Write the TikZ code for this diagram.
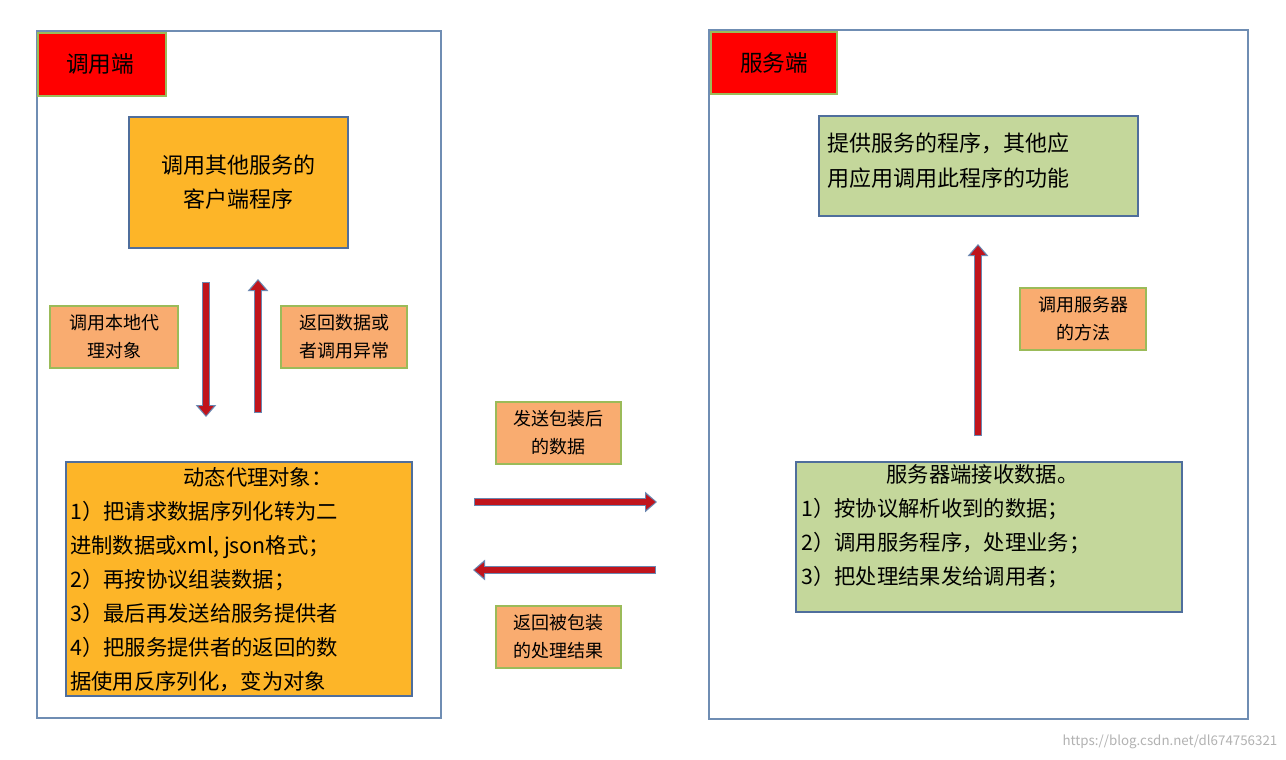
\documentclass[tikz,border=0pt]{standalone}
\usepackage{fontspec}
\setmainfont{Noto Sans CJK SC}
\usetikzlibrary{arrows.meta}
\definecolor{panel}{HTML}{6F8DB3}
\definecolor{bblue}{HTML}{4F6E9C}
\definecolor{orng}{HTML}{FDB528}
\definecolor{salm}{HTML}{F9AC70}
\definecolor{gbord}{HTML}{9BBB59}
\definecolor{grn}{HTML}{C4D79B}
\definecolor{ared}{HTML}{C0141C}
\definecolor{aout}{HTML}{6A86B0}
\tikzset{
  panelbox/.style={draw=panel,line width=1.8pt},
  tagbox/.style={fill=red,draw=gbord,line width=0.8pt},
  mainbox/.style={draw=bblue,line width=0.8pt},
  lbl/.style={fill=salm,draw=gbord,line width=0.9pt},
  blk/.style={line width=6pt,draw=aout,-{Triangle[length=9pt,width=15pt]},
     postaction={draw=ared,line width=4pt,-{Triangle[length=7pt,width=11pt]},shorten >=1.2pt,shorten <=0.8pt}},
}
\begin{document}
\begin{tikzpicture}[x=0.75pt,y=-0.75pt]
\useasboundingbox[fill=white] (0,0) rectangle (1286,760);
\draw[panelbox] (37,31) rectangle (441,718);
\draw[panelbox] (709,30) rectangle (1248,719);
\draw[tagbox] (38,33) rectangle (166,96);
\node at (100,64) {\fontsize{17}{20}\selectfont 调用端};
\draw[tagbox] (711,32) rectangle (837,94);
\node at (774,63) {\fontsize{17}{20}\selectfont 服务端};
\draw[mainbox,fill=orng] (129,117) rectangle (348,248);
\node[align=center,font=\fontsize{16.5}{25}\selectfont] (client) at (238,182) {调用其他服务的\\客户端程序};
\draw[lbl] (50,306) rectangle (178,368);
\node[align=center,font=\fontsize{13.5}{21}\selectfont] at (114,337) {调用本地代\\理对象};
\draw[lbl] (281,306) rectangle (407,368);
\node[align=center,font=\fontsize{13.5}{21}\selectfont] at (344,337) {返回数据或\\者调用异常};
\coordinate (d1) at (206,282); \coordinate (d2) at (206,417);
\coordinate (u1) at (258,413); \coordinate (u2) at (258,279);
\draw[blk] (d1) -- (d2);
\draw[blk] (u1) -- (u2);
\draw[mainbox,fill=orng] (66,462) rectangle (412,696);
\node[align=left,anchor=north west,font=\fontsize{16}{25.5}\selectfont,inner sep=0] (proxy) at (70,467) {\hspace*{5.3em}动态代理对象：\\1）把请求数据序列化转为二\\进制数据或xml, json格式；\\2）再按协议组装数据；\\3）最后再发送给服务提供者\\4）把服务提供者的返回的数\\据使用反序列化，变为对象};
\draw[lbl] (496,402) rectangle (621,464);
\node[align=center,font=\fontsize{13.5}{21}\selectfont] at (558,433) {发送包装后\\的数据};
\draw[lbl] (496,606) rectangle (621,668);
\node[align=center,font=\fontsize{13.5}{21}\selectfont] at (558,637) {返回被包装\\的处理结果};
\coordinate (r1) at (474,502); \coordinate (r2) at (657,502);
\coordinate (l1) at (656,570); \coordinate (l2) at (473,570);
\draw[blk] (r1) -- (r2);
\draw[blk] (l1) -- (l2);
\draw[mainbox,fill=grn] (819,116) rectangle (1138,216);
\node[align=left,anchor=north west,font=\fontsize{16.5}{26}\selectfont,inner sep=0] (prov) at (827,133) {提供服务的程序，其他应\\用应用调用此程序的功能};
\coordinate (s1) at (978,436); \coordinate (s2) at (978,244);
\draw[blk] (s1) -- (s2);
\draw[lbl] (1020,288) rectangle (1146,350);
\node[align=center,font=\fontsize{13.5}{21}\selectfont] at (1083,319) {调用服务器\\的方法};
\draw[mainbox,fill=grn] (796,462) rectangle (1182,612);
\node[align=left,anchor=north west,font=\fontsize{16}{25.5}\selectfont,inner sep=0] (srv) at (801,464) {\hspace*{4em}服务器端接收数据。\\1）按协议解析收到的数据；\\2）调用服务程序，处理业务；\\3）把处理结果发给调用者；};
\node[anchor=east,text=gray!60,font=\fontsize{10}{12}\selectfont] at (1282,742) {https://blog.csdn.net/dl674756321};
\end{tikzpicture}
\end{document}
